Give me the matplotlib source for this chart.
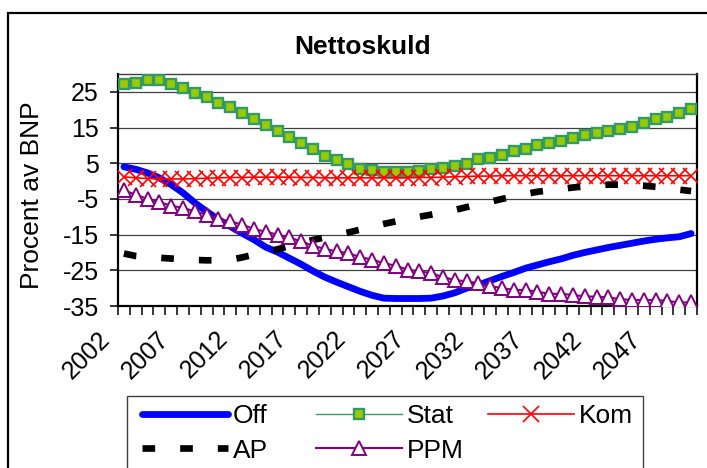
import matplotlib
matplotlib.use("Agg")
import numpy as np
import matplotlib.pyplot as plt
from matplotlib.patches import Rectangle
from matplotlib.transforms import ScaledTranslation

plt.rcParams['font.family'] = ['Liberation Sans', 'DejaVu Sans']

# Net debt by sector, percent of GDP
years = list(range(2002, 2051))

off = [4.0, 3.3, 2.3, 0.9, -1.0, -3.3, -6.1, -8.5, -10.8, -12.7, -14.6, -16.4, -18.5,
       -19.9, -21.6, -23.3, -25.2, -26.9, -28.3, -29.6, -30.9, -32.0, -32.8, -32.9, -32.9,
       -32.9, -32.8, -32.2, -31.3, -30.0, -29.1, -27.9, -26.7, -25.6, -24.4, -23.5, -22.6,
       -21.8, -20.8, -20.0, -19.3, -18.6, -18.0, -17.4, -16.8, -16.3, -15.9, -15.6, -14.7]

stat = [27.2, 27.6, 28.3, 28.3, 27.2, 26.0, 24.8, 23.6, 22.0, 20.8, 19.2, 17.5, 15.7,
        14.0, 12.3, 10.6, 8.9, 7.0, 5.9, 4.7, 3.5, 3.0, 2.6, 2.6, 2.6,
        2.8, 3.3, 3.7, 4.2, 4.7, 6.1, 6.5, 7.2, 8.4, 8.9, 10.0, 10.6,
        11.2, 12.2, 12.8, 13.4, 14.0, 14.5, 15.2, 16.4, 17.3, 18.0, 19.2, 20.1]

kom = [1.2, 0.9, 0.7, 0.6, 0.6, 0.6, 0.7, 0.8, 0.9, 1.0, 1.0, 1.1, 1.1,
       1.1, 1.1, 1.0, 1.0, 0.9, 0.9, 0.9, 0.9, 0.9, 0.9, 0.9, 0.9,
       1.0, 1.0, 1.1, 1.2, 1.3, 1.4, 1.4, 1.5, 1.5, 1.5, 1.5, 1.5,
       1.5, 1.5, 1.5, 1.5, 1.5, 1.5, 1.5, 1.5, 1.5, 1.5, 1.5, 1.5]

ap = [-20.3, -21.0, -21.3, -21.5, -21.7, -21.9, -22.1, -22.2, -22.2, -22.0, -21.4, -20.6, -19.9,
      -19.1, -18.2, -17.3, -16.5, -15.8, -15.1, -14.4, -13.6, -12.8, -12.0, -11.3, -10.6,
      -10.0, -9.4, -8.8, -8.1, -7.3, -6.5, -5.8, -5.0, -4.3, -3.6, -3.0, -2.6,
      -2.2, -1.8, -1.5, -1.2, -1.0, -1.0, -1.1, -1.3, -1.6, -2.0, -2.4, -2.8]

ppm = [-2.6, -3.8, -5.0, -5.9, -6.9, -7.5, -8.5, -9.4, -10.6, -11.3, -12.2, -13.4, -14.2,
       -15.0, -15.8, -16.9, -18.1, -19.0, -19.7, -20.2, -21.3, -22.0, -23.0, -23.7, -24.8,
       -25.3, -25.8, -26.9, -27.7, -28.1, -28.6, -29.4, -30.0, -30.5, -30.5, -31.0, -31.6,
       -31.6, -31.9, -32.3, -32.4, -32.6, -33.1, -33.3, -33.3, -33.3, -33.6, -34.0, -34.0]

yticks = [-35, -25, -15, -5, 5, 15, 25]
label_years = years[::5][:10]

W, H = 707, 468
fig = plt.figure(figsize=(W / 100, H / 100), dpi=100)
ax = fig.add_axes([118 / W, (H - 306) / H, (697 - 118) / W, (306 - 74) / H])

x = np.arange(len(years))
l_off, = ax.plot(x, off, color='#0000FF', lw=4.9, solid_capstyle='round', zorder=3, label='Off')
l_stat, = ax.plot(x, stat, color='#339966', lw=1.0, marker='s', ms=6.8, mfc='#99CC00',
                  mec='#339966', mew=1.7, zorder=4, label='Stat')
l_kom, = ax.plot(x, kom, color='#FF0000', lw=1.2, marker='x', ms=11, mew=1.2, zorder=5, label='Kom')
l_ap, = ax.plot(x, ap, color='black', lw=4.8, linestyle=(0, (1.9, 3.75)), dash_capstyle='butt',
                zorder=6, label='AP')
l_ppm, = ax.plot(x, ppm, color='#800080', lw=1.5, marker='^', ms=9.5, mfc='white', mec='#800080',
                 mew=1.4, zorder=7, label='PPM')

ax.set_xlim(-0.5, len(years) - 0.5)
ax.set_ylim(-35, 30)
ax.set_yticks(yticks)
ax.set_yticklabels([str(v) for v in yticks])
ax.yaxis.grid(True, color='#404040', lw=0.9)
ax.set_axisbelow(True)

# category boundaries carry the tick marks, category centres carry the labels
ax.set_xticks(np.arange(-0.5, len(years), 1.0))
ax.set_xticklabels([])
ax.set_xticks([years.index(y) for y in label_years], minor=True)
ax.set_xticklabels([str(y) for y in label_years], minor=True)
ax.tick_params(axis='x', which='major', length=6.5, width=1.1, direction='out', labelbottom=False)
ax.tick_params(axis='x', which='minor', length=0, pad=21, labelsize=18)
ax.tick_params(axis='y', length=5.8, width=1.1, direction='out', pad=8, labelsize=18)
shift = ScaledTranslation(-0.18, 0, fig.dpi_scale_trans)
for lbl in ax.get_xticklabels(minor=True):
    lbl.set_rotation(45)
    lbl.set_ha('right')
    lbl.set_va('center')
    lbl.set_rotation_mode('anchor')
    lbl.set_transform(lbl.get_transform() + shift)

for side in ('left', 'bottom', 'right'):
    ax.spines[side].set_linewidth(1.6)
    ax.spines[side].set_color('black')
ax.spines['top'].set_linewidth(1.0)
ax.spines['top'].set_color('#404040')

fig.text(363 / W, 1 - 54 / H, 'Nettoskuld', ha='center', va='baseline',
         fontsize=19, fontweight='bold')
fig.text(32 / W, 1 - 195 / H, 'Procent av BNP', rotation=90, ha='center', va='center', fontsize=19)

# chart frame and legend box
fig.patches.append(Rectangle((8 / W, -0.1), 1.2, (H - 13) / H + 0.1, transform=fig.transFigure,
                             fill=False, ec='black', lw=1.6))
fig.patches.append(Rectangle((127 / W, -0.1), (643 - 127) / W, (H - 396) / H + 0.1,
                             transform=fig.transFigure, fill=False, ec='#404040', lw=1.0))

columns = [([l_off, l_ap], 142), ([l_stat, l_ppm], 316), ([l_kom], 488)]
for handles, xpx in columns:
    fig.legend(handles=handles, loc='upper left', bbox_to_anchor=(xpx / W, 1 - 404 / H),
               bbox_transform=fig.transFigure, frameon=False, fontsize=19, numpoints=1,
               handlelength=3.26, handletextpad=0.19, borderpad=0, borderaxespad=0,
               labelspacing=0.4)

fig.savefig('out.png', dpi=100)
